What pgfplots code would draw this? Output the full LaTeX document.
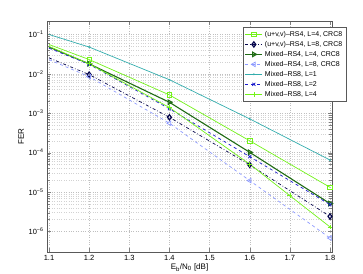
\documentclass[border=0pt]{standalone}
\usepackage{fontspec}
\setmainfont{Liberation Sans}
\usepackage{pgfplots}
\pgfplotsset{compat=1.18}
\definecolor{lime}{rgb}{0.45,0.95,0.1}
\definecolor{dkgreen}{rgb}{0.12,0.42,0.08}
\definecolor{teal2}{rgb}{0.2,0.68,0.68}
\definecolor{navy2}{rgb}{0.02,0.02,0.3}
\definecolor{blue2}{rgb}{0.1,0.1,0.8}
\definecolor{ltblue}{rgb}{0.55,0.6,1}
\begin{document}
\begin{tikzpicture}
\path[use as bounding box] (-47pt,-21pt) rectangle (316pt,252pt);
\begin{axis}[
  at={(0,0)}, anchor=south west,
  scale only axis, width=285pt, height=231pt,
  ymode=log,
  xmin=1.095, xmax=1.805,
  ymin=3e-7, ymax=0.22,
  xtick={1.1,1.2,1.3,1.4,1.5,1.6,1.7,1.8},
  xticklabels={1.1,1.2,1.3,1.4,1.5,1.6,1.7,1.8},
  ytick={1e-6,1e-5,1e-4,1e-3,1e-2,1e-1},
  yticklabels={10\textsuperscript{−6},10\textsuperscript{−5},10\textsuperscript{−4},10\textsuperscript{−3},10\textsuperscript{−2},10\textsuperscript{−1}},
  tick label style={font=\fontsize{7.5}{8}\selectfont},
  label style={font=\fontsize{8}{9}\selectfont},
  xlabel={E\textsubscript{b}/N\textsubscript{0} [dB]},
  ylabel={FER},
  xlabel style={yshift=4pt},
  ylabel style={yshift=-2pt},
  grid=both,
  major grid style={gray!50, dotted},
  minor grid style={gray!35, dotted},
  tick align=inside,
  axis line style={gray!70!black},
  legend cell align=left,
  legend style={at={(0.688,0.972)}, anchor=north west, font=\fontsize{7}{7.5}\selectfont,
    draw=gray!70!black, row sep=-0.6pt, inner sep=1.5pt},
  legend image post style={mark indices={2}},
  every axis plot/.append style={line width=0.7pt},
]
\addplot[color=lime, mark=square, mark size=2.2pt, mark indices={2,3,4,5}, mark options={solid}] coordinates {
(1.1,0.0557) (1.2,0.0231) (1.4,2.92e-3) (1.6,2.0e-4) (1.8,1.32e-5)};
\addlegendentry{(u+v,v)--RS4, L=4, CRC8}
\addplot[color=navy2, dash dot, mark=diamond, mark size=2.6pt, mark indices={2,3,4,5}, mark options={solid, line width=1.2pt}] coordinates {
(1.1,0.0255) (1.2,9.6e-3) (1.4,7.9e-4) (1.6,4.9e-5) (1.8,2.4e-6)};
\addlegendentry{(u+v,v)--RS4, L=8, CRC8}
\addplot[color=dkgreen, line width=1.1pt, mark=triangle, mark size=2.6pt, mark indices={2,3,4,5}, mark options={solid, rotate=-90}] coordinates {
(1.1,0.048) (1.2,0.018) (1.4,1.9e-3) (1.6,1.02e-4) (1.8,5.1e-6)};
\addlegendentry{Mixed--RS4, L=4, CRC8}
\addplot[color=ltblue, dashed, mark=triangle, mark size=2.6pt, mark indices={2,3,4,5}, mark options={solid, rotate=90}] coordinates {
(1.1,0.023) (1.2,8.5e-3) (1.4,5.6e-4) (1.6,1.95e-5) (1.8,6.8e-7)};
\addlegendentry{Mixed--RS4, L=8, CRC8}
\addplot[color=teal2, mark=*, mark size=0.5pt, mark indices={2,3,4,5}] coordinates {
(1.1,0.1) (1.2,0.048) (1.4,7.1e-3) (1.6,7.2e-4) (1.8,6.5e-5)};
\addlegendentry{Mixed--RS8, L=1}
\addplot[color=blue2, dashed, mark=x, mark size=2.2pt, mark indices={2,3,4,5}, mark options={solid}] coordinates {
(1.1,0.045) (1.2,0.0175) (1.4,1.3e-3) (1.6,7.9e-5) (1.8,4.8e-6)};
\addlegendentry{Mixed--RS8, L=2}
\addplot[color=lime, mark=+, mark size=2.4pt, mark indices={2,3,4,5,6}, mark options={solid}] coordinates {
(1.1,0.05) (1.2,0.018) (1.4,1.4e-3) (1.6,5.1e-5) (1.7,8.1e-6) (1.8,1.3e-6)};
\addlegendentry{Mixed--RS8, L=4}
\end{axis}
\end{tikzpicture}
\end{document}
